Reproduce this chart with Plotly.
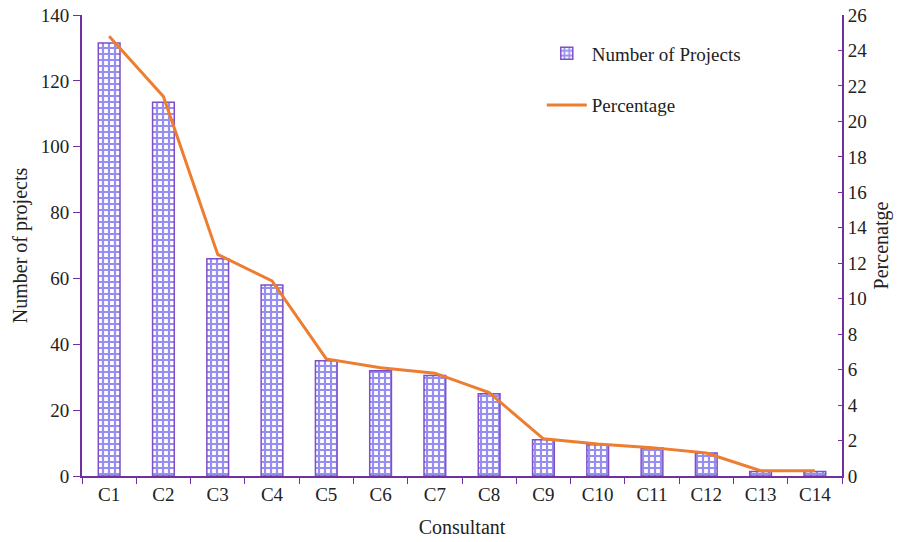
import plotly.graph_objects as go

consultants = ["C1", "C2", "C3", "C4", "C5", "C6", "C7", "C8", "C9", "C10", "C11", "C12", "C13", "C14"]
projects = [131.5, 113.5, 66, 58, 35, 32, 30.5, 25, 11, 9.5, 8.5, 7, 1.4, 1.4]
percentage = [24.8, 21.4, 12.5, 11.0, 6.6, 6.1, 5.8, 4.7, 2.1, 1.8, 1.6, 1.3, 0.3, 0.3]

axis_purple = "#7030A0"
font_family = "Liberation Serif, Times New Roman, serif"

fig = go.Figure()

fig.add_trace(go.Bar(
    x=consultants, y=projects, name="Number of Projects",
    width=0.4, legendgroup="a",
    marker=dict(
        color="white",
        line=dict(color="#7F4FC8", width=1.5),
        pattern=dict(shape="+", fgcolor="#2E20E0", bgcolor="white", size=6, solidity=0.6),
    ),
))

fig.add_trace(go.Scatter(
    x=consultants, y=percentage, name="Percentage", yaxis="y2",
    mode="lines", legendgroup="b",
    line=dict(color="#ED7D31", width=3),
))

fig.update_layout(
    width=909, height=542,
    margin=dict(l=82, r=67, t=15, b=66),
    plot_bgcolor="white", paper_bgcolor="white",
    font=dict(family=font_family, size=19, color="#222222"),
    showlegend=True,
    legend=dict(
        x=0.605, y=0.958, xanchor="left", yanchor="top",
        traceorder="grouped", tracegroupgap=24,
        font=dict(size=19), bgcolor="rgba(0,0,0,0)",
        itemwidth=40,
    ),
    xaxis=dict(
        title=dict(text="Consultant", font=dict(size=20), standoff=16),
        showline=True, linecolor=axis_purple, linewidth=2,
        ticks="outside", tickson="boundaries", ticklen=6, tickcolor=axis_purple,
        showgrid=False, tickfont=dict(size=19), automargin=False,
    ),
    yaxis=dict(
        title=dict(text="Number of projects", font=dict(size=20), standoff=8),
        range=[0, 140], dtick=20,
        showline=True, linecolor=axis_purple, linewidth=2,
        ticks="outside", ticklen=7, tickcolor=axis_purple,
        showgrid=False, zeroline=False, tickfont=dict(size=19), automargin=False,
    ),
    yaxis2=dict(
        title=dict(text="Percenatge", font=dict(size=20), standoff=8),
        overlaying="y", side="right",
        range=[0, 26], dtick=2,
        showline=True, linecolor=axis_purple, linewidth=2,
        ticks="inside", ticklen=4, tickcolor=axis_purple,
        showgrid=False, zeroline=False, tickfont=dict(size=19), automargin=False,
    ),
)

fig.write_html("out.html")
